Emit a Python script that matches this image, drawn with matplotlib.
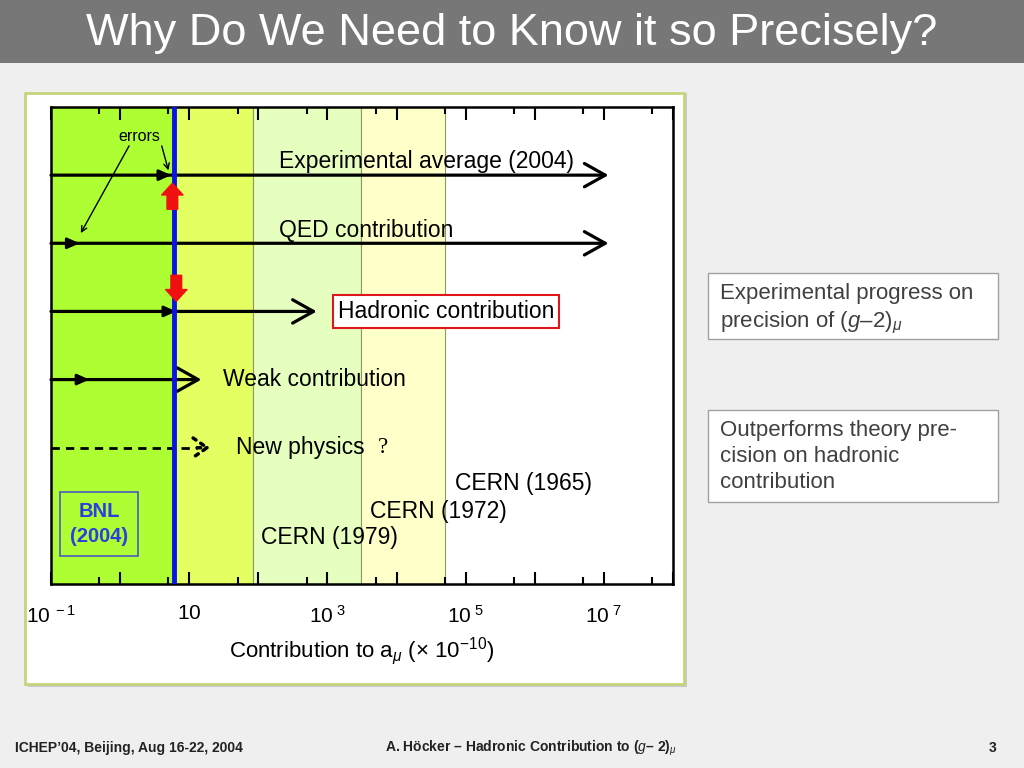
import matplotlib
matplotlib.use("Agg")
import matplotlib.pyplot as plt
from matplotlib.patches import Rectangle
from matplotlib.ticker import FixedLocator, NullFormatter
from matplotlib.transforms import ScaledTranslation
import numpy as np

plt.rcParams['font.family'] = ['Liberation Sans', 'DejaVu Sans']
plt.rcParams['mathtext.fontset'] = 'custom'
plt.rcParams['mathtext.rm'] = 'Liberation Sans'
plt.rcParams['mathtext.it'] = 'Liberation Sans:italic'
plt.rcParams['mathtext.bf'] = 'Liberation Sans:bold'

# contributions to a_mu in units of 1e-10
labels = ['Experimental average (2004)', 'QED contribution', 'Hadronic contribution',
          'Weak contribution', 'New physics']
values = [1.166e7, 1.166e7, 700, 15, 20]
errors = [5.5, 0.26, 6.5, 0.36]
rows = [6, 5, 4, 3, 2]

# precision bands (edges) and their experiments
band_edges = [0.1, 6, 85, 3100, 50000]
band_colors = ['#adff34', '#e4ff62', '#e6ffbe', '#ffffc9']
bnl_precision = 6
cern_labels = ['CERN (1965)', 'CERN (1972)', 'CERN (1979)']
cern_x = [69000, 4100, 110]
cern_y = [1.47, 1.07, 0.68]

W, H = 1024, 768
fig = plt.figure(figsize=(W / 100, H / 100), dpi=100)
fig.patch.set_facecolor('#efefef')

def fx(px):
    return px / W

def fy(py):
    return 1 - py / H

# title bar
fig.patches.append(Rectangle((0, fy(63)), 1, 63 / H, transform=fig.transFigure,
                             facecolor='#777777', edgecolor='none', zorder=-2))
fig.text(0.5, fy(33), 'Why Do We Need to Know it so Precisely?', color='white',
         fontsize=32.5, ha='center', va='center')

# picture frame
fig.patches.append(Rectangle((fx(28), fy(687)), fx(659), 594 / H, transform=fig.transFigure,
                             facecolor='#c8c8d0', edgecolor='none', zorder=-2))
fig.patches.append(Rectangle((fx(25), fy(684)), fx(659), 591 / H, transform=fig.transFigure,
                             facecolor='white', edgecolor='#c5d57a', lw=2, zorder=-1))

ax = fig.add_axes([fx(51), fy(584), fx(673 - 51), (584 - 107) / H])
ax.set_zorder(2)
ax.set_xscale('log')
ax.set_xlim(0.1, 1e8)
ax.set_ylim(0, 7)
ax.set_yticks([])

for i in range(len(band_colors)):
    ax.axvspan(band_edges[i], band_edges[i + 1], facecolor=band_colors[i],
               edgecolor='#8c9a60', lw=0.8, zorder=0)

ax.axvline(bnl_precision, color='#0a14e6', lw=3.5, zorder=3)

# main arrows
for lab, val, y in zip(labels[:4], values[:4], rows[:4]):
    ax.annotate('', xy=(val, y), xytext=(0.1, y),
                arrowprops=dict(arrowstyle='->,head_length=0.75,head_width=0.42',
                                lw=2.3, color='black', shrinkA=0, shrinkB=0,
                                mutation_scale=20), zorder=2)
# error markers
for err, y in zip(errors, rows[:4]):
    ax.annotate('', xy=(err, y), xytext=(err / 1.6, y),
                arrowprops=dict(arrowstyle='-|>,head_length=0.9,head_width=0.4',
                                lw=2, color='black', shrinkA=0, shrinkB=0,
                                mutation_scale=8), zorder=2)

# new physics (dashed)
ax.plot([0.1, 13], [rows[4], rows[4]], color='black', ls=(0, (3, 2.2)), lw=2, zorder=2)
ax.annotate('', xy=(values[4], rows[4]), xytext=(13, rows[4]),
            arrowprops=dict(arrowstyle='->,head_length=0.5,head_width=0.35', ls=':',
                            lw=2.5, color='black', shrinkA=0, shrinkB=0,
                            mutation_scale=20), zorder=2)

# labels
fs = 16.5
ax.text(200, 6.2, labels[0], fontsize=fs, va='center', ha='left')
ax.text(200, 5.19, labels[1], fontsize=fs, va='center', ha='left')
ax.text(1400, 4.0, labels[2], fontsize=fs, va='center', ha='left',
        bbox=dict(boxstyle='square,pad=0.22', facecolor='white', edgecolor='#e0161c', lw=1.5))
ax.text(31, 3.0, labels[3], fontsize=fs, va='center', ha='left')
ax.text(48, 2.0, labels[4], fontsize=fs, va='center', ha='left')
ax.text(5300, 2.0, '?', fontsize=fs, va='center', ha='left', family='Liberation Serif')

for lab, x, y in zip(cern_labels, cern_x, cern_y):
    ax.text(x, y, lab, fontsize=fs, va='center', ha='left')

ax.text(0.5, 0.88, 'BNL\n(2004)', fontsize=14.5, fontweight='bold', color='#2a3fe0',
        ha='center', va='center', linespacing=1.35,
        bbox=dict(boxstyle='square,pad=0.5', facecolor='none', edgecolor='#4a5ac0', lw=1.2))

# errors annotation
ax.text(1.9, 6.57, 'errors', fontsize=11.5, ha='center', va='center')
ax.annotate('', xy=(5.0, 6.07), xytext=(4.0, 6.43),
            arrowprops=dict(arrowstyle='->', lw=1, color='black', shrinkA=0, shrinkB=0))
ax.annotate('', xy=(0.27, 5.15), xytext=(1.35, 6.43),
            arrowprops=dict(arrowstyle='->', lw=1, color='black', shrinkA=0, shrinkB=0))

# red shift arrows
ax.annotate('', xy=(5.7, 5.88), xytext=(5.7, 5.5),
            arrowprops=dict(arrowstyle='simple,head_length=0.6,head_width=1.1,tail_width=0.55',
                            color='#f01010', mutation_scale=14, shrinkA=0, shrinkB=0), zorder=4)
ax.annotate('', xy=(6.5, 4.15), xytext=(6.5, 4.53),
            arrowprops=dict(arrowstyle='simple,head_length=0.6,head_width=1.1,tail_width=0.55',
                            color='#f01010', mutation_scale=14, shrinkA=0, shrinkB=0), zorder=4)

# ticks
ax.xaxis.set_major_locator(FixedLocator([10.0 ** k for k in range(-1, 9)]))
ax.xaxis.set_minor_locator(FixedLocator([5 * 10.0 ** k for k in range(-1, 8)]))
tick_labels = []
for k in range(-1, 9):
    if k % 2 == 1 or k == -1:
        tick_labels.append(r'$10$' if k == 1 else r'$10^{\ %s}$' % ('-1' if k < 0 else str(k)))
    else:
        tick_labels.append('')
ax.set_xticklabels(tick_labels)
ax.xaxis.set_minor_formatter(NullFormatter())
ax.tick_params(axis='x', which='both', direction='in', top=True, labelsize=15, pad=28)
ax.tick_params(axis='x', which='major', length=9, width=1.5)
ax.tick_params(axis='x', which='minor', length=5, width=1.5)
for t in ax.get_xticklabels():
    t.set_verticalalignment('baseline')
# plain "10" label sits a bit low next to the superscripted ones
lbl10 = ax.xaxis.get_major_ticks()[2].label1
lbl10.set_transform(lbl10.get_transform() + ScaledTranslation(0, 3 / 72, fig.dpi_scale_trans))
for s in ax.spines.values():
    s.set_linewidth(1.8)

ax.set_xlabel(r'Contribution to a$_{\mu}$ ($\times$ 10$^{-10}$)', fontsize=16, labelpad=6)

# side notes
for top, bot in [(273, 339), (410, 502)]:
    fig.patches.append(Rectangle((fx(708), fy(bot)), fx(290), (bot - top) / H,
                                 transform=fig.transFigure, facecolor='white',
                                 edgecolor='#a0a0a0', lw=1, zorder=-1))
fig.text(fx(720), fy(283), 'Experimental progress on\nprecision of ($g$–2)$_{\\mu}$',
         fontsize=16, color='#404040', va='top', ha='left', linespacing=1.32)
fig.text(fx(720), fy(420), 'Outperforms theory pre-\ncision on hadronic\ncontribution',
         fontsize=16, color='#404040', va='top', ha='left', linespacing=1.32)

# footer
fig.text(fx(15), fy(748), "ICHEP’04, Beijing, Aug 16-22, 2004", fontsize=10,
         fontweight='bold', color='#222222', va='center', ha='left')
fig.text(fx(531), fy(748), r'A. Höcker – Hadronic Contribution to ($\mathit{g}$– 2)$_{\mu}$',
         fontsize=10, fontweight='bold', color='#222222', va='center', ha='center')
fig.text(fx(996), fy(748), '3', fontsize=10, fontweight='bold', color='#222222',
         va='center', ha='right')

fig.savefig('out.png', dpi=100, facecolor=fig.get_facecolor())
